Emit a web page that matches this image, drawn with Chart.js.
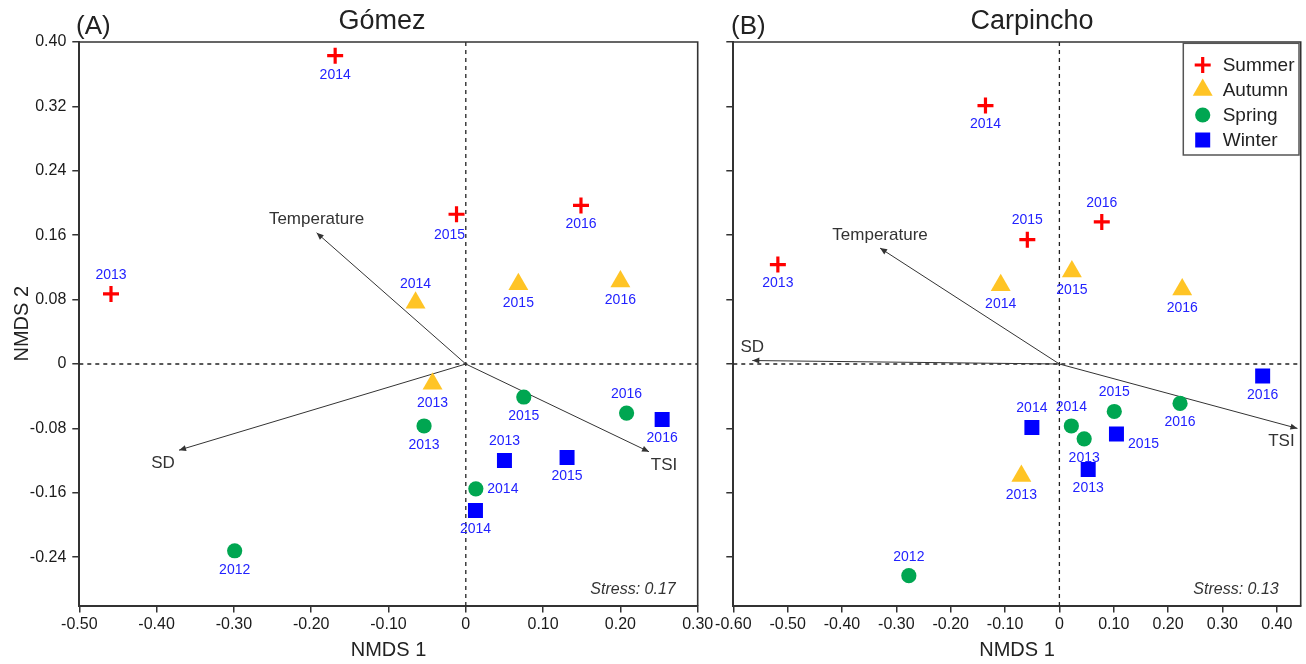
<!DOCTYPE html>
<html><head><meta charset="utf-8">
<script src="https://cdn.jsdelivr.net/npm/chart.js@4.4.0/dist/chart.umd.min.js"></script>
<style>
html,body{margin:0;padding:0;background:#fff;width:1306px;height:664px;overflow:hidden}
#wa{position:absolute;left:0;top:0;width:720px;height:664px}
#wb{position:absolute;left:700px;top:0;width:606px;height:664px}
</style></head><body>
<div id="wa"><canvas id="ca" width="720" height="664"></canvas></div>
<div id="wb"><canvas id="cb" width="606" height="664"></canvas></div>
<script>
// ---------------- DATA ----------------
const seasons = ['Summer', 'Autumn', 'Spring', 'Winter'];
const yTicks = [-0.24, -0.16, -0.08, 0, 0.08, 0.16, 0.24, 0.32, 0.40];
const yTickLabels = ['-0.24', '-0.16', '-0.08', '0', '0.08', '0.16', '0.24', '0.32', '0.40'];
const xTicksA = [-0.5, -0.4, -0.3, -0.2, -0.1, 0, 0.1, 0.2, 0.3];
const xTickLabelsA = ['-0.50', '-0.40', '-0.30', '-0.20', '-0.10', '0', '0.10', '0.20', '0.30'];
const xTicksB = [-0.6, -0.5, -0.4, -0.3, -0.2, -0.1, 0, 0.1, 0.2, 0.3, 0.4];
const xTickLabelsB = ['-0.60', '-0.50', '-0.40', '-0.30', '-0.20', '-0.10', '0', '0.10', '0.20', '0.30', '0.40'];

// Gómez (A)
const gSummerYears = ['2013', '2014', '2015', '2016'];
const gSummerX = [-0.459, -0.169, -0.012, 0.149];
const gSummerY = [0.087, 0.383, 0.186, 0.197];
const gSummerSide = ['a', 'b', 'bl', 'b'];
const gAutumnYears = ['2013', '2014', '2015', '2016'];
const gAutumnX = [-0.043, -0.065, 0.068, 0.200];
const gAutumnY = [-0.0245, 0.076, 0.099, 0.1026];
const gAutumnSide = ['b', 'a', 'b', 'b'];
const gSpringYears = ['2012', '2013', '2014', '2015', '2016'];
const gSpringX = [-0.299, -0.054, 0.013, 0.075, 0.208];
const gSpringY = [-0.232, -0.077, -0.155, -0.041, -0.061];
const gSpringSide = ['b', 'b', 'r', 'b', 'a'];
const gWinterYears = ['2013', '2014', '2015', '2016'];
const gWinterX = [0.050, 0.0125, 0.131, 0.254];
const gWinterY = [-0.120, -0.182, -0.116, -0.069];
const gWinterSide = ['a', 'b', 'b', 'b'];
const gVecNames = ['Temperature', 'SD', 'TSI'];
const gVecX = [-0.193, -0.371, 0.237];
const gVecY = [0.163, -0.107, -0.109];
const gVecSide = ['a', 'bl', 'br'];

// Carpincho (B)
const cSummerYears = ['2013', '2014', '2015', '2016'];
const cSummerX = [-0.518, -0.136, -0.059, 0.078];
const cSummerY = [0.1235, 0.321, 0.1545, 0.1765];
const cSummerSide = ['b', 'b', 'a', 'a'];
const cAutumnYears = ['2013', '2014', '2015', '2016'];
const cAutumnX = [-0.070, -0.108, 0.023, 0.226];
const cAutumnY = [-0.139, 0.0977, 0.115, 0.0927];
const cAutumnSide = ['b', 'b', 'b', 'b'];
const cSpringYears = ['2012', '2013', '2014', '2015', '2016'];
const cSpringX = [-0.277, 0.0456, 0.022, 0.101, 0.222];
const cSpringY = [-0.263, -0.093, -0.077, -0.059, -0.049];
const cSpringSide = ['a', 'b', 'a', 'a', 'b'];
const cWinterYears = ['2013', '2014', '2015', '2016'];
const cWinterX = [0.053, -0.0506, 0.105, 0.374];
const cWinterY = [-0.131, -0.079, -0.087, -0.015];
const cWinterSide = ['b', 'a', 'br', 'b'];
const cVecNames = ['Temperature', 'SD', 'TSI'];
const cVecX = [-0.330, -0.565, 0.438];
const cVecY = [0.144, 0.0043, -0.080];
const cVecSide = ['a', 'a', 'bl'];

// ---------------- STYLE ----------------
const FONT = "'Liberation Sans', Arial, Helvetica, sans-serif";
Chart.defaults.font.family = FONT;
const seasonStyle = {
  Summer: {pointStyle: 'cross', pointRadius: 8, borderColor: '#FF0000', backgroundColor: '#FF0000', pointBorderWidth: 3.2},
  Autumn: {pointStyle: 'triangle', pointRadius: 11.5, borderColor: '#FFC425', backgroundColor: '#FFC425', pointBorderWidth: 0},
  Spring: {pointStyle: 'circle', pointRadius: 7.6, borderColor: '#00A651', backgroundColor: '#00A651', pointBorderWidth: 0},
  Winter: {pointStyle: 'rect', pointRadius: 10.6, borderColor: '#0000FF', backgroundColor: '#0000FF', pointBorderWidth: 0}
};
const yearOff = {a: [0, -19], b: [0, 19], bl: [-7, 21], r: [27, 0], br: [27, 10]};
const vecOff = {a: [0, -13], bl: [-16, 13], br: [15, 14]};

function seasonDataset(name, xs, ys, years, sides) {
  const s = seasonStyle[name];
  return Object.assign({
    label: name,
    data: xs.map((x, i) => ({x: x, y: ys[i]})),
    years: years, sides: sides, kind: 'season',
    pointHoverRadius: s.pointRadius, showLine: false, order: 0
  }, s);
}
function vectorDatasets(names, xs, ys, sides) {
  return names.map((n, i) => ({
    label: n, kind: 'vector', side: sides[i],
    data: [{x: 0, y: 0}, {x: xs[i], y: ys[i]}],
    showLine: true, pointRadius: 0, pointHoverRadius: 0,
    borderColor: '#333', borderWidth: 1, backgroundColor: '#333', order: 10
  }));
}

const ordPlugin = {
  id: 'ord',
  beforeDatasetsDraw(chart) {
    const {ctx, chartArea: ca, scales: {x, y}} = chart;
    ctx.save();
    ctx.setLineDash([4, 4]);
    ctx.strokeStyle = '#222';
    ctx.lineWidth = 1.3;
    const x0 = x.getPixelForValue(0), y0 = y.getPixelForValue(0);
    ctx.beginPath();
    ctx.moveTo(x0, ca.top); ctx.lineTo(x0, ca.bottom);
    ctx.moveTo(ca.left, y0); ctx.lineTo(ca.right, y0);
    ctx.stroke();
    ctx.restore();
  },
  afterDatasetsDraw(chart) {
    const ctx = chart.ctx;
    ctx.save();
    chart.data.datasets.forEach((ds, i) => {
      const meta = chart.getDatasetMeta(i);
      if (ds.kind === 'vector') {
        const p0 = meta.data[0], p1 = meta.data[1];
        const ang = Math.atan2(p1.y - p0.y, p1.x - p0.x);
        const L = 7, W = 3;
        ctx.fillStyle = '#333';
        ctx.beginPath();
        ctx.moveTo(p1.x, p1.y);
        ctx.lineTo(p1.x - L * Math.cos(ang) + W * Math.sin(ang), p1.y - L * Math.sin(ang) - W * Math.cos(ang));
        ctx.lineTo(p1.x - L * Math.cos(ang) - W * Math.sin(ang), p1.y - L * Math.sin(ang) + W * Math.cos(ang));
        ctx.closePath();
        ctx.fill();
        const o = vecOff[ds.side];
        ctx.font = '17px ' + FONT;
        ctx.fillStyle = '#333';
        ctx.textAlign = 'center';
        ctx.textBaseline = 'middle';
        ctx.fillText(ds.label, p1.x + o[0], p1.y + o[1]);
      } else if (ds.kind === 'season') {
        ctx.font = '14px ' + FONT;
        ctx.fillStyle = '#2222FF';
        ctx.textAlign = 'center';
        ctx.textBaseline = 'middle';
        meta.data.forEach((el, j) => {
          const o = yearOff[ds.sides[j]];
          ctx.fillText(ds.years[j], el.x + o[0], el.y + o[1]);
        });
      }
    });
    ctx.restore();
  },
  afterDraw(chart, args, opts) {
    const {ctx, chartArea: ca} = chart;
    ctx.save();
    // frame (top and right)
    ctx.strokeStyle = '#333';
    ctx.lineWidth = 1.6;
    ctx.beginPath();
    ctx.moveTo(ca.left, ca.top); ctx.lineTo(ca.right, ca.top); ctx.lineTo(ca.right, ca.bottom);
    ctx.stroke();
    // panel letter and title
    ctx.fillStyle = '#222';
    ctx.font = '26px ' + FONT;
    ctx.textBaseline = 'middle';
    ctx.textAlign = 'left';
    ctx.fillText(opts.panel, opts.panelX, 27);
    ctx.textAlign = 'center';
    ctx.font = '27px ' + FONT;
    ctx.fillText(opts.title, opts.titleX, 22);
    // stress
    ctx.font = 'italic 16px ' + FONT;
    ctx.textAlign = 'right';
    ctx.fillStyle = '#333';
    ctx.fillText(opts.stress, ca.right - 22, ca.bottom - 16);
    // legend
    if (opts.legend) {
      const bx1 = ca.right - 117.4, bx2 = ca.right - 1.7, by1 = ca.top + 1.3, by2 = ca.top + 113;
      ctx.fillStyle = '#fff';
      ctx.fillRect(bx1, by1, bx2 - bx1, by2 - by1);
      ctx.strokeStyle = '#555';
      ctx.lineWidth = 1.5;
      ctx.strokeRect(bx1, by1, bx2 - bx1, by2 - by1);
      let row = 0;
      chart.data.datasets.forEach((ds, i) => {
        if (ds.kind !== 'season') return;
        const el = chart.getDatasetMeta(i).data[0];
        const o = el.options;
        const ry = ca.top + 23 + row * 25;
        ctx.fillStyle = o.backgroundColor;
        ctx.strokeStyle = o.borderColor;
        ctx.lineWidth = o.borderWidth;
        Chart.helpers.drawPoint(ctx, {pointStyle: o.pointStyle, radius: o.radius, rotation: 0, borderWidth: o.borderWidth}, bx1 + 19.4, ry);
        ctx.fillStyle = '#222';
        ctx.font = '19px ' + FONT;
        ctx.textAlign = 'left';
        ctx.textBaseline = 'middle';
        ctx.fillText(ds.label, bx1 + 39.4, ry + 1);
        row++;
      });
    }
    ctx.restore();
  }
};

function makeChart(canvasId, cfg) {
  return new Chart(document.getElementById(canvasId), {
    type: 'scatter',
    data: {datasets: cfg.datasets},
    options: {
      responsive: false,
      animation: false,
      events: [],
      layout: {padding: cfg.padding, autoPadding: false},
      plugins: {legend: {display: false}, tooltip: {enabled: false}, ord: cfg.ord},
      scales: {
        x: {
          type: 'linear', min: cfg.xMin, max: cfg.xMax,
          afterBuildTicks: s => { s.ticks = cfg.xTicks.map(v => ({value: v})); },
          afterFit: s => { s.height = 58.5; s.paddingLeft = 0; s.paddingRight = 0; },
          ticks: {autoSkip: false, maxRotation: 0, padding: 2, color: '#1a1a1a', font: {size: 16},
                  callback: (v, i) => cfg.xLabels[i]},
          grid: {drawOnChartArea: false, drawTicks: true, tickLength: 7, color: '#333', lineWidth: 1.5},
          border: {display: true, color: '#333', width: 2},
          title: {display: true, text: 'NMDS 1', color: '#222', font: {size: 20}, padding: {top: 0, bottom: 2}}
        },
        y: {
          type: 'linear', min: -0.30, max: 0.40,
          afterBuildTicks: s => { s.ticks = yTicks.map(v => ({value: v})); },
          afterFit: s => { s.width = cfg.yWidth; s.paddingTop = 0; s.paddingBottom = 0; },
          ticks: {display: cfg.yLabels, autoSkip: false, padding: 6, color: '#1a1a1a', font: {size: 16},
                  callback: (v, i) => yTickLabels[i]},
          grid: {drawOnChartArea: false, drawTicks: true, tickLength: 7, color: '#333', lineWidth: 1.5},
          border: {display: true, color: '#333', width: 2},
          title: {display: cfg.yLabels, text: 'NMDS 2', color: '#222', font: {size: 20}, padding: {top: 10, bottom: 0}}
        }
      }
    },
    plugins: [ordPlugin]
  });
}

makeChart('ca', {
  datasets: [
    seasonDataset('Summer', gSummerX, gSummerY, gSummerYears, gSummerSide),
    seasonDataset('Autumn', gAutumnX, gAutumnY, gAutumnYears, gAutumnSide),
    seasonDataset('Spring', gSpringX, gSpringY, gSpringYears, gSpringSide),
    seasonDataset('Winter', gWinterX, gWinterY, gWinterYears, gWinterSide)
  ].concat(vectorDatasets(gVecNames, gVecX, gVecY, gVecSide)),
  padding: {top: 42, right: 22.3, left: 0, bottom: 0},
  xMin: -0.5, xMax: 0.3, xTicks: xTicksA, xLabels: xTickLabelsA,
  yWidth: 79.3, yLabels: true,
  ord: {panel: '(A)', panelX: 76, title: 'Gómez', titleX: 382, stress: 'Stress: 0.17', legend: false}
});

makeChart('cb', {
  datasets: [
    seasonDataset('Summer', cSummerX, cSummerY, cSummerYears, cSummerSide),
    seasonDataset('Autumn', cAutumnX, cAutumnY, cAutumnYears, cAutumnSide),
    seasonDataset('Spring', cSpringX, cSpringY, cSpringYears, cSpringSide),
    seasonDataset('Winter', cWinterX, cWinterY, cWinterYears, cWinterSide)
  ].concat(vectorDatasets(cVecNames, cVecX, cVecY, cVecSide)),
  padding: {top: 42, right: 5.3, left: 0, bottom: 0},
  xMin: -0.6, xMax: 0.444, xTicks: xTicksB, xLabels: xTickLabelsB,
  yWidth: 33.3, yLabels: false,
  ord: {panel: '(B)', panelX: 31, title: 'Carpincho', titleX: 332, stress: 'Stress: 0.13', legend: true}
});
</script>
</body></html>
